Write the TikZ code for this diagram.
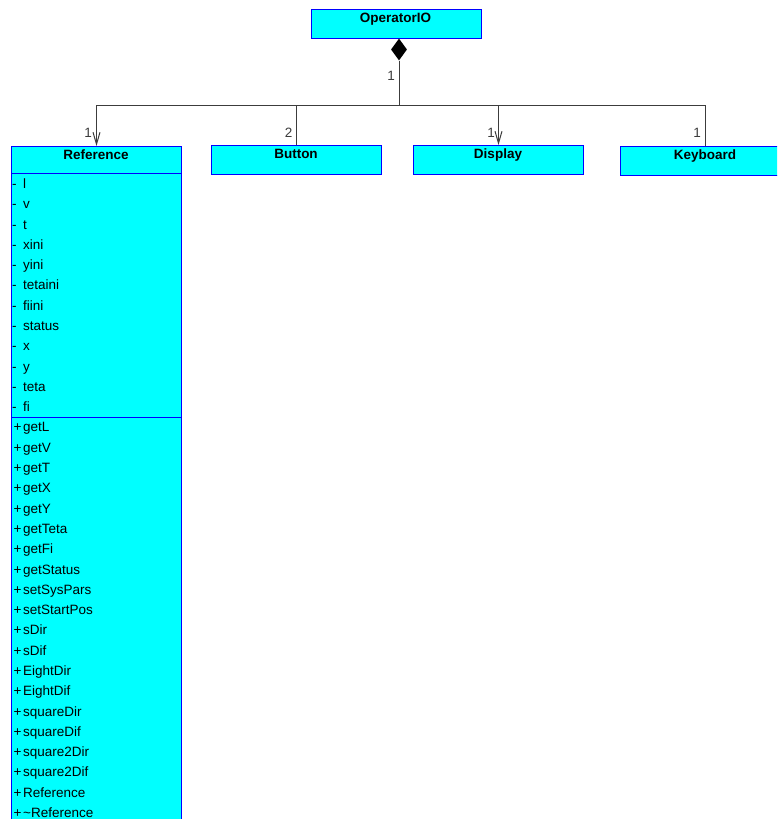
\documentclass[tikz,border=0pt]{standalone}
\usepackage{fontspec}
\setmainfont{Liberation Sans}
\usetikzlibrary{shapes.geometric,arrows.meta}
\definecolor{classfill}{HTML}{00FFFF}
\definecolor{classline}{HTML}{0000FF}
\definecolor{wirecol}{HTML}{3C3C3C}
\tikzset{
  x=1pt, y=-1pt,
  classbox/.style={draw=classline, fill=classfill, line width=1pt, rectangle,
    minimum width=170pt, minimum height=29pt, inner sep=0pt, anchor=north west},
  hdr/.style={font=\fontsize{13.5}{16}\selectfont\bfseries, inner sep=0pt, anchor=base},
  row/.style={font=\fontsize{13.5}{16}\selectfont, inner sep=0pt, anchor=base west},
  wire/.style={draw=wirecol, line width=1pt},
  navarrow/.style={-{Straight Barb[length=12pt,width=7pt,line width=1pt]}},
  mult/.style={font=\fontsize{13.5}{16}\selectfont, text=wirecol, inner sep=0pt, anchor=base east},
  sepline/.style={draw=classline, line width=1pt}
}
\begin{document}
\begin{tikzpicture}
\useasboundingbox (0,0) rectangle (777,819);
\clip (0,0) rectangle (777,819);
\fill[white] (0,0) rectangle (777,819);

% class boxes
\node[classbox] (op)  at (310.5,9)   {};
\node[classbox, minimum height=700pt] (ref) at (11,146) {};
\node[classbox] (btn) at (211,145)   {};
\node[classbox] (dsp) at (413,145)   {};
\node[classbox] (kbd) at (620,146)   {};

% class names
\node[hdr] (opT)  at (395.5,22.7) {OperatorIO};
\node[hdr] (refT) at (96,159.3)   {Reference};
\node[hdr] (btnT) at (296,158.3)  {Button};
\node[hdr] (dspT) at (498,158.3)  {Display};
\node[hdr] (kbdT) at (705,159.3)  {Keyboard};

% compartments of Reference
\draw[sepline] (11,173) -- (181,173);
\draw[sepline] (11,417) -- (181,417);

% attributes
\foreach \name [count=\i from 0] in {l,v,t,xini,yini,tetaini,fiini,status,x,y,teta,fi} {
  \node[row] (am\i) at (12,{188.5+20.29*\i}) {-};
  \node[row] (a\i)  at (23,{188.5+20.29*\i}) {\name};
}
% operations
\foreach \name [count=\i from 12] in {getL,getV,getT,getX,getY,getTeta,getFi,getStatus,
    setSysPars,setStartPos,sDir,sDif,EightDir,EightDif,squareDir,squareDif,
    square2Dir,square2Dif,Reference,\textasciitilde Reference} {
  \node[row] (mm\i) at (13.5,{188.5+20.29*\i}) {+};
  \node[row] (m\i)  at (23,{188.5+20.29*\i}) {\name};
}

% composition
\node[diamond, fill=black, inner sep=0pt, minimum width=16pt, minimum height=22pt] (dia) at (399,49.5) {};
\coordinate (bus) at (399,105.5);
\draw[wire] (dia.south) -- (bus);
\draw[wire, navarrow] (bus) -| (ref.north);
\draw[wire] (bus) -| (btn.north);
\draw[wire, navarrow] (bus) -| (dsp.north);
\draw[wire] (bus) -| (kbd.north);

% multiplicities
\node[mult] (mDia) at (395,80)    {1};
\node[mult] (mRef) at (92,137.5)  {1};
\node[mult] (mBtn) at (292.5,137.5) {2};
\node[mult] (mDsp) at (495,137.5) {1};
\node[mult] (mKbd) at (701,137.5) {1};
\end{tikzpicture}
\end{document}
